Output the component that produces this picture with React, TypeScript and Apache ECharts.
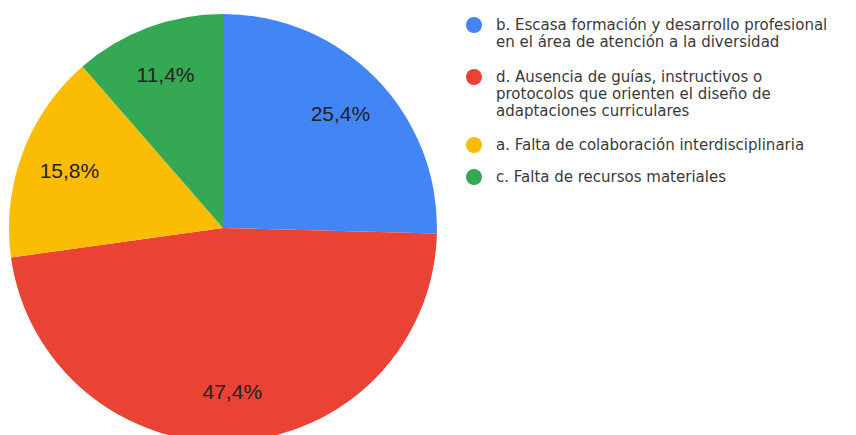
import React, { useEffect, useRef } from "react";
import * as echarts from "echarts";

const categories: string[] = [
  "b. Escasa formación y desarrollo profesional\nen el área de atención a la diversidad",
  "d. Ausencia de guías, instructivos o\nprotocolos que orienten el diseño de\nadaptaciones curriculares",
  "a. Falta de colaboración interdisciplinaria",
  "c. Falta de recursos materiales",
];
const values: number[] = [25.4, 47.4, 15.8, 11.4];
const colors: string[] = ["#4285F4", "#EA4335", "#FBBC04", "#34A853"];

const LEGEND_FONT = "'DejaVu Sans', 'Liberation Sans', Arial, sans-serif";
const LABEL_FONT = "'Liberation Sans', Arial, sans-serif";
const LINE = 17;
const legendIconCenters = [25, 77, 145, 177];

export default function App() {
  const ref = useRef<HTMLDivElement>(null);
  useEffect(() => {
    if (!ref.current) return;
    const chart = echarts.init(ref.current, undefined, { renderer: "svg" });
    const data = categories.map((name, i) => ({
      name,
      value: values[i],
      itemStyle: { color: colors[i] },
    }));
    const legends = categories.map((name, i) => {
      const lines = name.split("\n").length;
      const blank = lines - 1;
      const total = lines + blank;
      const boxH = Math.max(16, total * LINE);
      return {
        data: [name],
        orient: "vertical",
        left: 466,
        top: legendIconCenters[i] - boxH / 2,
        padding: 0,
        icon: "circle",
        itemWidth: 16,
        itemHeight: 16,
        selectedMode: false,
        formatter: (n: string) => "\n".repeat(blank) + n,
        textStyle: {
          fontFamily: LEGEND_FONT,
          fontSize: 15,
          lineHeight: LINE,
          color: "#3a3a3a",
          padding: [0, 0, 0, 9],
        },
      };
    });
    chart.setOption({
      animation: false,
      color: colors,
      legend: legends,
      series: [
        {
          type: "pie",
          center: [223, 228],
          radius: [0, 214],
          startAngle: 90,
          clockwise: true,
          label: { show: false },
          labelLine: { show: false },
          silent: true,
          data,
        },
        {
          type: "pie",
          center: [223, 228],
          radius: [128, 194],
          startAngle: 90,
          clockwise: true,
          silent: true,
          legendHoverLink: false,
          itemStyle: { color: "rgba(0,0,0,0)" },
          label: {
            show: true,
            position: "inside",
            fontFamily: LABEL_FONT,
            fontSize: 21,
            color: "#222",
            formatter: (p: any) => p.value.toFixed(1).replace(".", ",") + "%",
          },
          labelLine: { show: false },
          data: categories.map((name, i) => ({ name, value: values[i] })),
        },
      ],
    });
    return () => chart.dispose();
  }, []);
  return (
    <div
      ref={ref}
      style={{ position: "fixed", left: 0, top: 0, width: 856, height: 435, background: "#fff" }}
    />
  );
}
